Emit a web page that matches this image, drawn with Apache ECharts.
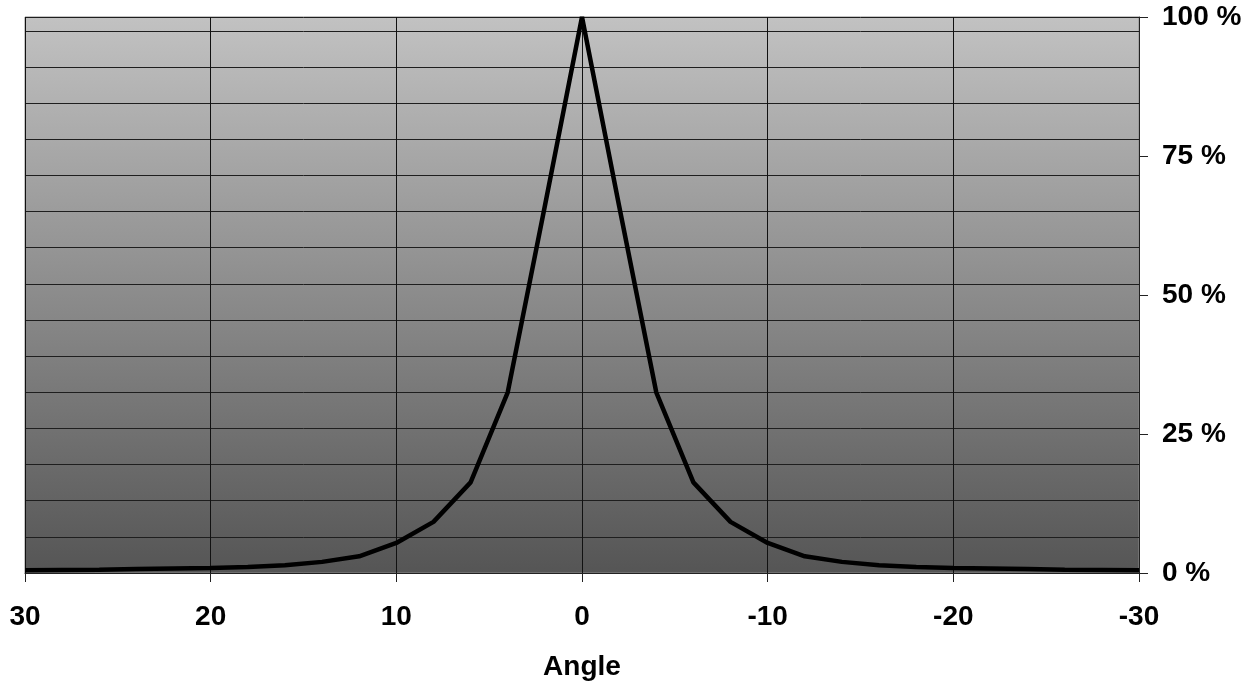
<!DOCTYPE html>
<html>
<head>
<meta charset="utf-8">
<script src="https://cdn.jsdelivr.net/npm/echarts@6/dist/echarts.min.js"></script>
<style>
  html, body { margin: 0; padding: 0; background: #fff; }
  #chart { width: 1255px; height: 686px; }
</style>
</head>
<body>
<div id="chart"></div>
<script>
// angle in degrees, response in percent
const angles = [30, 28, 26, 24, 22, 20, 18, 16, 14, 12, 10, 8, 6, 4, 2, 0,
  -2, -4, -6, -8, -10, -12, -14, -16, -18, -20, -22, -24, -26, -28, -30]
const response = [0.5, 0.55, 0.6, 0.7, 0.8, 0.9, 1.1, 1.4, 2.0, 3.0, 5.4, 9.2, 16.3, 32.5, 66, 100,
  66, 32.5, 16.3, 9.2, 5.4, 3.0, 2.0, 1.4, 1.1, 0.9, 0.8, 0.7, 0.6, 0.55, 0.5]
const yTicks = [0, 25, 50, 75, 100]

const labelFont = {
  color: '#000',
  fontFamily: '"Liberation Sans", Arial, sans-serif',
  fontWeight: 'bold',
  fontSize: 28
}

const seriesData = angles.map((a, i) => [a, response[i]])

const chart = echarts.init(document.getElementById('chart'))
chart.setOption({
  animation: false,
  backgroundColor: '#fff',
  grid: {
    left: 25,
    right: 116,
    top: 17,
    bottom: 111,
    show: true,
    borderColor: '#8a8a8a',
    borderWidth: 1,
    backgroundColor: {
      type: 'linear',
      x: 0, y: 0, x2: 0, y2: 1,
      colorStops: [
        { offset: 0, color: '#c2c2c2' },
        { offset: 1, color: '#555555' }
      ]
    }
  },
  xAxis: {
    type: 'value',
    inverse: true,
    min: -30,
    max: 30,
    interval: 10,
    name: 'Angle',
    nameLocation: 'middle',
    nameGap: 80,
    nameTextStyle: labelFont,
    axisLine: { onZero: false, lineStyle: { color: '#222', width: 1 } },
    axisTick: { show: true, length: 9, lineStyle: { color: '#222' } },
    axisLabel: Object.assign({ margin: 30 }, labelFont),
    splitLine: { show: true, lineStyle: { color: '#111', width: 1 } }
  },
  yAxis: [
    {
      type: 'value',
      position: 'right',
      min: 0,
      max: 100,
      interval: 25,
      axisLine: { show: true, onZero: false, lineStyle: { color: '#222', width: 1 } },
      axisTick: { show: true, length: 9, lineStyle: { color: '#222' } },
      axisLabel: Object.assign({
        margin: 23,
        formatter: v => (yTicks.includes(v) ? v + ' %' : '')
      }, labelFont),
      splitLine: { show: false }
    },
    {
      // gridlines every 6.5 %
      type: 'value',
      position: 'left',
      min: 0,
      max: 100,
      interval: 6.5,
      axisLine: { show: false, onZero: false },
      axisTick: { show: false },
      axisLabel: { show: false },
      splitLine: { show: true, lineStyle: { color: '#1e1e1e', width: 1 } }
    }
  ],
  series: [
    {
      type: 'line',
      yAxisIndex: 0,
      data: seriesData,
      symbol: 'none',
      lineStyle: { color: '#000', width: 4.5 },
      z: 5
    }
  ]
})
</script>
</body>
</html>
